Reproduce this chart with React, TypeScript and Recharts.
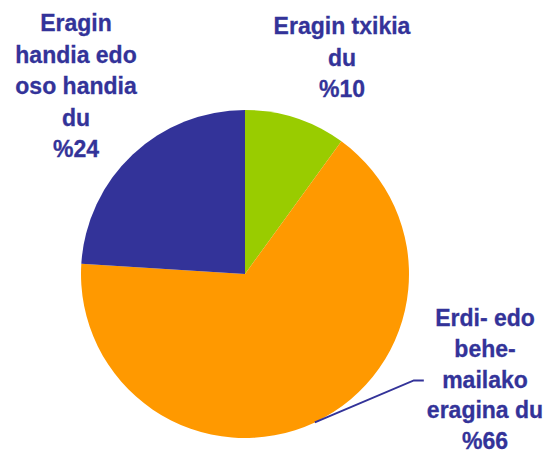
import React from "react";
import { PieChart, Pie, Cell } from "recharts";

const categories = ["Eragin txikia du", "Erdi- edo behe-mailako eragina du", "Eragin handia edo oso handia du"];
const values = [10, 66, 24];
const labelLines: string[][] = [
  ["Eragin txikia", "du", "%10"],
  ["Erdi- edo", "behe-", "mailako", "eragina du", "%66"],
  ["Eragin", "handia edo", "oso handia", "du", "%24"],
];

const colors = ["#99CC00", "#FF9900", "#333399"];
const labelAnchors = [
  { x: 342, y: 34, lh: 31.5 },
  { x: 485, y: 326, lh: 30.8 },
  { x: 76, y: 31, lh: 31.5 },
];
const TEXT = "#333399";

const data = categories.map((name, i) => ({ name, value: values[i] }));

const RAD = Math.PI / 180;

const renderLabel = (props: any) => {
  const i = props.index;
  const a = labelAnchors[i];
  return (
    <text
      key={`lbl-${i}`}
      x={a.x}
      y={a.y}
      textAnchor="middle"
      fill={TEXT}
      stroke={TEXT}
      strokeWidth={0.3}
      fontFamily="'Liberation Sans', Arial, sans-serif"
      fontWeight="bold"
      fontSize={23}
    >
      {labelLines[i].map((t, k) => (
        <tspan key={k} x={a.x} y={a.y + k * a.lh}>
          {t}
        </tspan>
      ))}
    </text>
  );
};

const renderLabelLine = (props: any) => {
  const { cx, cy, midAngle, outerRadius, index } = props;
  if (index !== 1) return <g key={`ll-${index}`} />;
  const sx = cx + outerRadius * Math.cos(-midAngle * RAD);
  const sy = cy + outerRadius * Math.sin(-midAngle * RAD);
  const ex = sx + 99;
  const ey = sy - 42;
  return (
    <polyline
      key={`ll-${index}`}
      points={`${sx},${sy} ${ex},${ey} ${ex + 10},${ey}`}
      fill="none"
      stroke={TEXT}
      strokeWidth={2}
    />
  );
};

export default function App() {
  return (
    <div style={{ position: "fixed", left: 0, top: 0, background: "#fff" }}>
      <PieChart width={547} height={452} margin={{ top: 0, right: 0, bottom: 0, left: 0 }}>
        <Pie
          data={data}
          dataKey="value"
          nameKey="name"
          cx={245}
          cy={274}
          outerRadius={164}
          startAngle={90}
          endAngle={-270}
          stroke="none"
          label={renderLabel}
          labelLine={renderLabelLine}
          isAnimationActive={false}
        >
          {data.map((d, i) => (
            <Cell key={d.name} fill={colors[i]} />
          ))}
        </Pie>
      </PieChart>
    </div>
  );
}
